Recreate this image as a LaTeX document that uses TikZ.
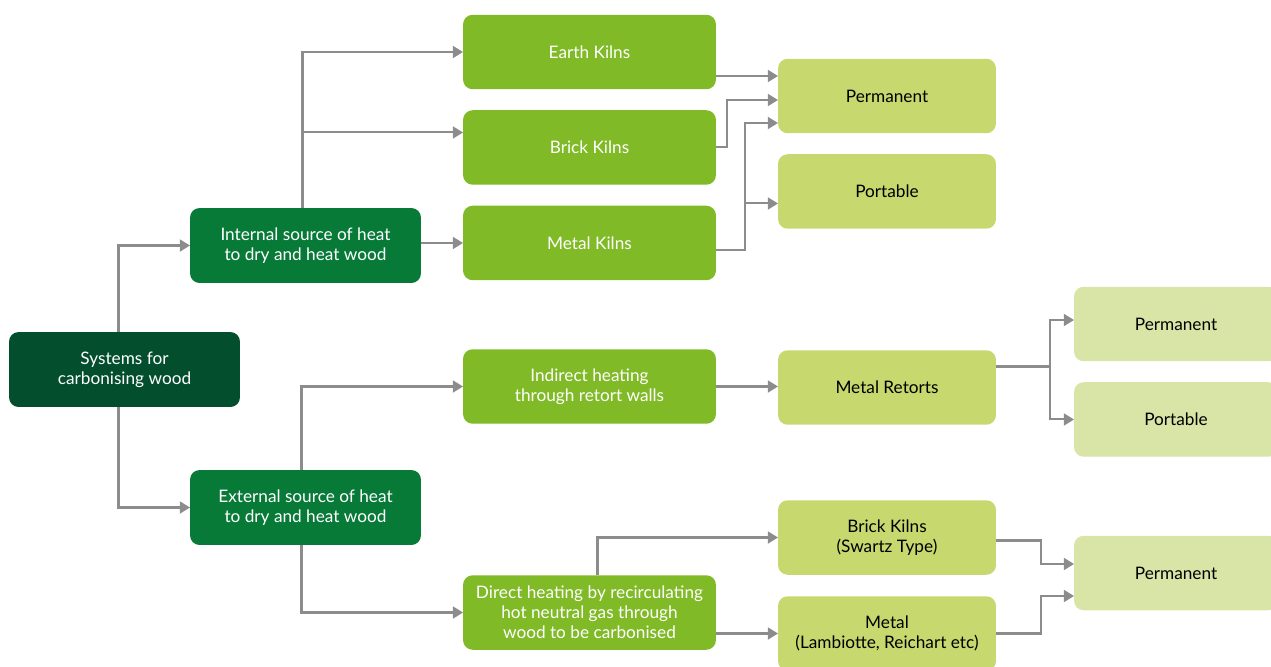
\documentclass[tikz,border=0pt]{standalone}
\usepackage{fontspec}
\setmainfont{Lato}
\usetikzlibrary{positioning,calc,arrows.meta}
\definecolor{sysgreen}{RGB}{3,79,45}
\definecolor{srcgreen}{RGB}{7,122,56}
\definecolor{kilngreen}{RGB}{128,186,39}
\definecolor{typegreen}{RGB}{198,216,110}
\definecolor{usegreen}{RGB}{217,228,167}
\definecolor{linegray}{RGB}{140,140,140}
\tikzset{
  box/.style={rectangle, rounded corners=5.5pt, inner sep=2pt, outer sep=0pt, align=center, text centered, font=\fontsize{9.8}{11.4}\selectfont},
  sysbox/.style={box, minimum width=4.62cm, minimum height=1.5cm, fill=sysgreen, text=white},
  srcbox/.style={box, minimum width=4.62cm, minimum height=1.5cm, fill=srcgreen, text=white},
  kilnbox/.style={box, minimum width=5.06cm, minimum height=1.49cm, fill=kilngreen, text=white},
  typebox/.style={box, minimum width=4.36cm, minimum height=1.49cm, fill=typegreen, text=black},
  usebox/.style={box, minimum width=4.08cm, minimum height=1.49cm, fill=usegreen, text=black},
  node distance=0.42cm
}

\begin{document}
\begin{tikzpicture}[x=0.02cm, y=-0.02cm, line width=1.15pt, draw=linegray, >={Triangle[length=5.8pt,width=6.8pt]}]
	\useasboundingbox (0,0) rectangle (1271,666);

	\node[sysbox] (sys) at (124.5,369.5) {Systems for\\carbonising wood};
	\node[srcbox] (int) at (305.5,245.5) {Internal source of heat\\to dry and heat wood};
	\node[srcbox] (ext) at (305.5,507.5) {External source of heat\\to dry and heat wood};

	\node[kilnbox] (earth) at (589.5,52) {Earth Kilns};
	\node[kilnbox, below=of earth] (brick) {Brick Kilns};
	\node[kilnbox, below=of brick] (metal) {Metal Kilns};
	\node[kilnbox] (indirect) at (589.5,386.5) {Indirect heating\\through retort walls};
	\node[kilnbox] (direct) at (589.5,612.5) {Direct heating by recirculating\\hot neutral gas through\\wood to be carbonised};

	\node[typebox] (perm1) at (887,96) {Permanent};
	\node[typebox, below=of perm1] (port1) {Portable};
	\node[typebox] (retorts) at (887,387.5) {Metal Retorts};
	\node[typebox] (swartz) at (887,537.5) {Brick Kilns\\(Swartz Type)};
	\node[typebox] (lamb) at (887,633.5) {Metal\\(Lambiotte, Reichart etc)};

	\node[usebox] (perm2) at (1176,324) {Permanent};
	\node[usebox, below=of perm2] (port2) {Portable};
	\node[usebox] (perm3) at (1176,573) {Permanent};

	% junction points
	\coordinate (intup) at ($(int.north)+(-3,0)$);
	\coordinate (brickin) at ($(brick.west)+(0,-15)$);
	\coordinate (metalup) at ($(metal.east)+(29,7)$);
	\coordinate (portin) at ($(port1.west)+(0,12)$);
	\coordinate (retsplit) at ($(retorts.east)+(54,-21)$);

	% systems -> sources
	\draw[->] ($(sys.north)+(-6,0)$) |- (int.west);
	\draw[->] ($(sys.south)+(-6,0)$) |- (ext.west);

	% internal heat
	\draw[->] (intup) |- (earth.west);
	\draw[->] (intup |- brickin) -- (brickin);
	\draw[->] (int.east |- metal.west) -- (metal.west);

	\draw[->] ($(earth.east)+(0,24)$) -- ($(perm1.west)+(0,-20)$);
	\draw[->] (brick.east) -- ++(11,0) |- ($(perm1.west)+(0,4)$);
	\draw[->] ($(metal.east)+(0,7)$) -- (metalup) |- ($(perm1.west)+(0,27)$);
	\draw[->] (metalup |- portin) -- (portin);

	% external heat
	\draw[->] ($(ext.north)+(-4,0)$) |- (indirect.west);
	\draw[->] ($(ext.south)+(-4,0)$) |- (direct.west);
	\draw[->] (indirect.west -| indirect.east) -- (retorts.west |- indirect.west);
	\draw[->] ($(retorts.east)+(0,-21)$) -- (retsplit) |- ($(perm2.west)+(0,-4)$);
	\draw[->] (retsplit) |- (port2.west);

	\draw[->] ($(direct.north)+(8,0)$) |- (swartz.west);
	\draw[->] (direct.east |- lamb.west) -- (lamb.west);
	\draw[->] ($(swartz.east)+(0,3)$) -- ++(45,0) |- ($(perm3.west)+(0,-9)$);
	\draw[->] (lamb.east) -- ++(45,0) |- ($(perm3.west)+(0,23)$);
\end{tikzpicture}
\end{document}
